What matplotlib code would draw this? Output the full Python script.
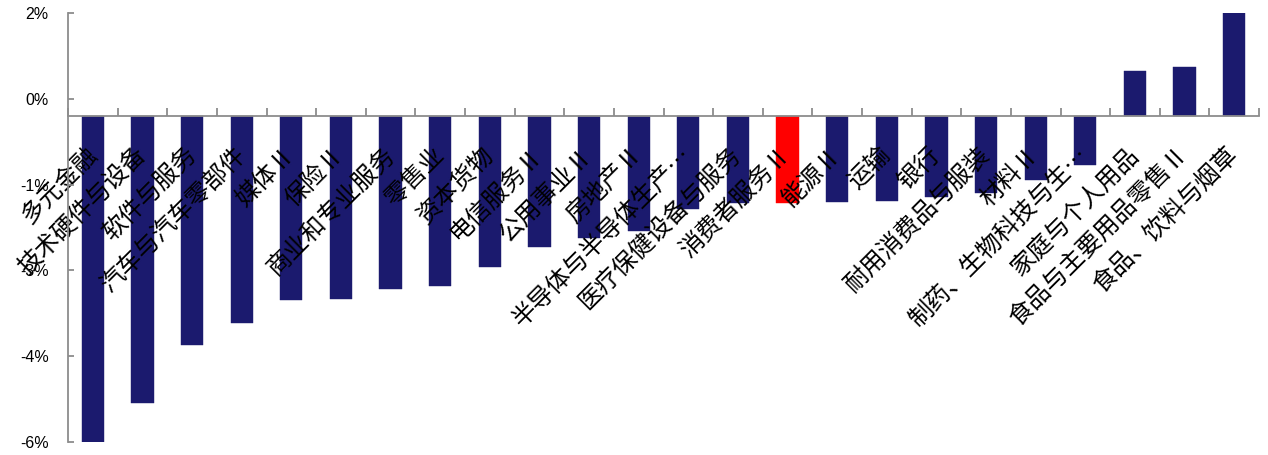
import matplotlib
matplotlib.use("Agg")
import matplotlib.pyplot as plt
import numpy as np

categories = ["多元金融", "技术硬件与设备", "软件与服务", "汽车与汽车零部件", "媒体Ⅱ", "保险Ⅱ",
              "商业和专业服务", "零售业", "资本货物", "电信服务Ⅱ", "公用事业Ⅱ", "房地产Ⅱ",
              "半导体与半导体生产…", "医疗保健设备与服务", "消费者服务Ⅱ", "能源Ⅱ", "运输", "银行",
              "耐用消费品与服装", "材料Ⅱ", "制药、生物科技与生…", "家庭与个人用品",
              "食品与主要用品零售Ⅱ", "食品、饮料与烟草"]
values = [-6.07, -5.34, -4.26, -3.85, -3.42, -3.40, -3.22, -3.16, -2.80, -2.44, -2.26, -2.13,
          -1.72, -1.62, -1.61, -1.59, -1.58, -1.50, -1.43, -1.18, -0.91, 0.84, 0.93, 1.93]
highlight = "消费者服务Ⅱ"
y_ticks = [-6.07, -4.47, -2.87, -1.27, 0.33, 1.93]

fig = plt.figure(figsize=(12.68, 4.55), dpi=100)
ax = fig.add_axes([68/1268, 1-442/455, (1259-68)/1268, (442-13)/455])

x = np.arange(len(categories))
colors = ["#FF0000" if c == highlight else "#1B1A6E" for c in categories]
ax.bar(x, values, width=0.45, color=colors, edgecolor=colors, linewidth=0.3, zorder=1)

ax.set_xlim(-0.5, len(categories) - 0.5)
ax.set_ylim(y_ticks[0], y_ticks[-1])
ax.set_yticks(y_ticks)
ax.set_yticklabels([f"{v:.0f}%".replace("-0%", "0%") for v in y_ticks],
                   fontname="Liberation Sans", fontsize=11.5)

gray = "#8C8C8C"
for s in ["top", "right"]:
    ax.spines[s].set_visible(False)
ax.spines["left"].set_color(gray)
ax.spines["left"].set_linewidth(1.3)
ax.spines["bottom"].set_color(gray)
ax.spines["bottom"].set_linewidth(1.3)
ax.spines["bottom"].set_position(("data", 0))

ax.tick_params(axis="y", direction="in", length=4, width=1.3, color=gray, pad=14)
ax.set_xticks(x)
ax.set_xticks(np.arange(-0.5, len(categories), 1.0), minor=True)
ax.tick_params(axis="x", which="major", length=0, pad=25)
ax.tick_params(axis="x", which="minor", direction="in", length=6, width=1.3, color=gray)
ax.set_xticklabels(categories, fontsize=17.5, family=["Noto Sans CJK SC", "DejaVu Sans"],
                   rotation=45, ha="right", va="center", rotation_mode="anchor")

fig.savefig("out.png", dpi=100)
